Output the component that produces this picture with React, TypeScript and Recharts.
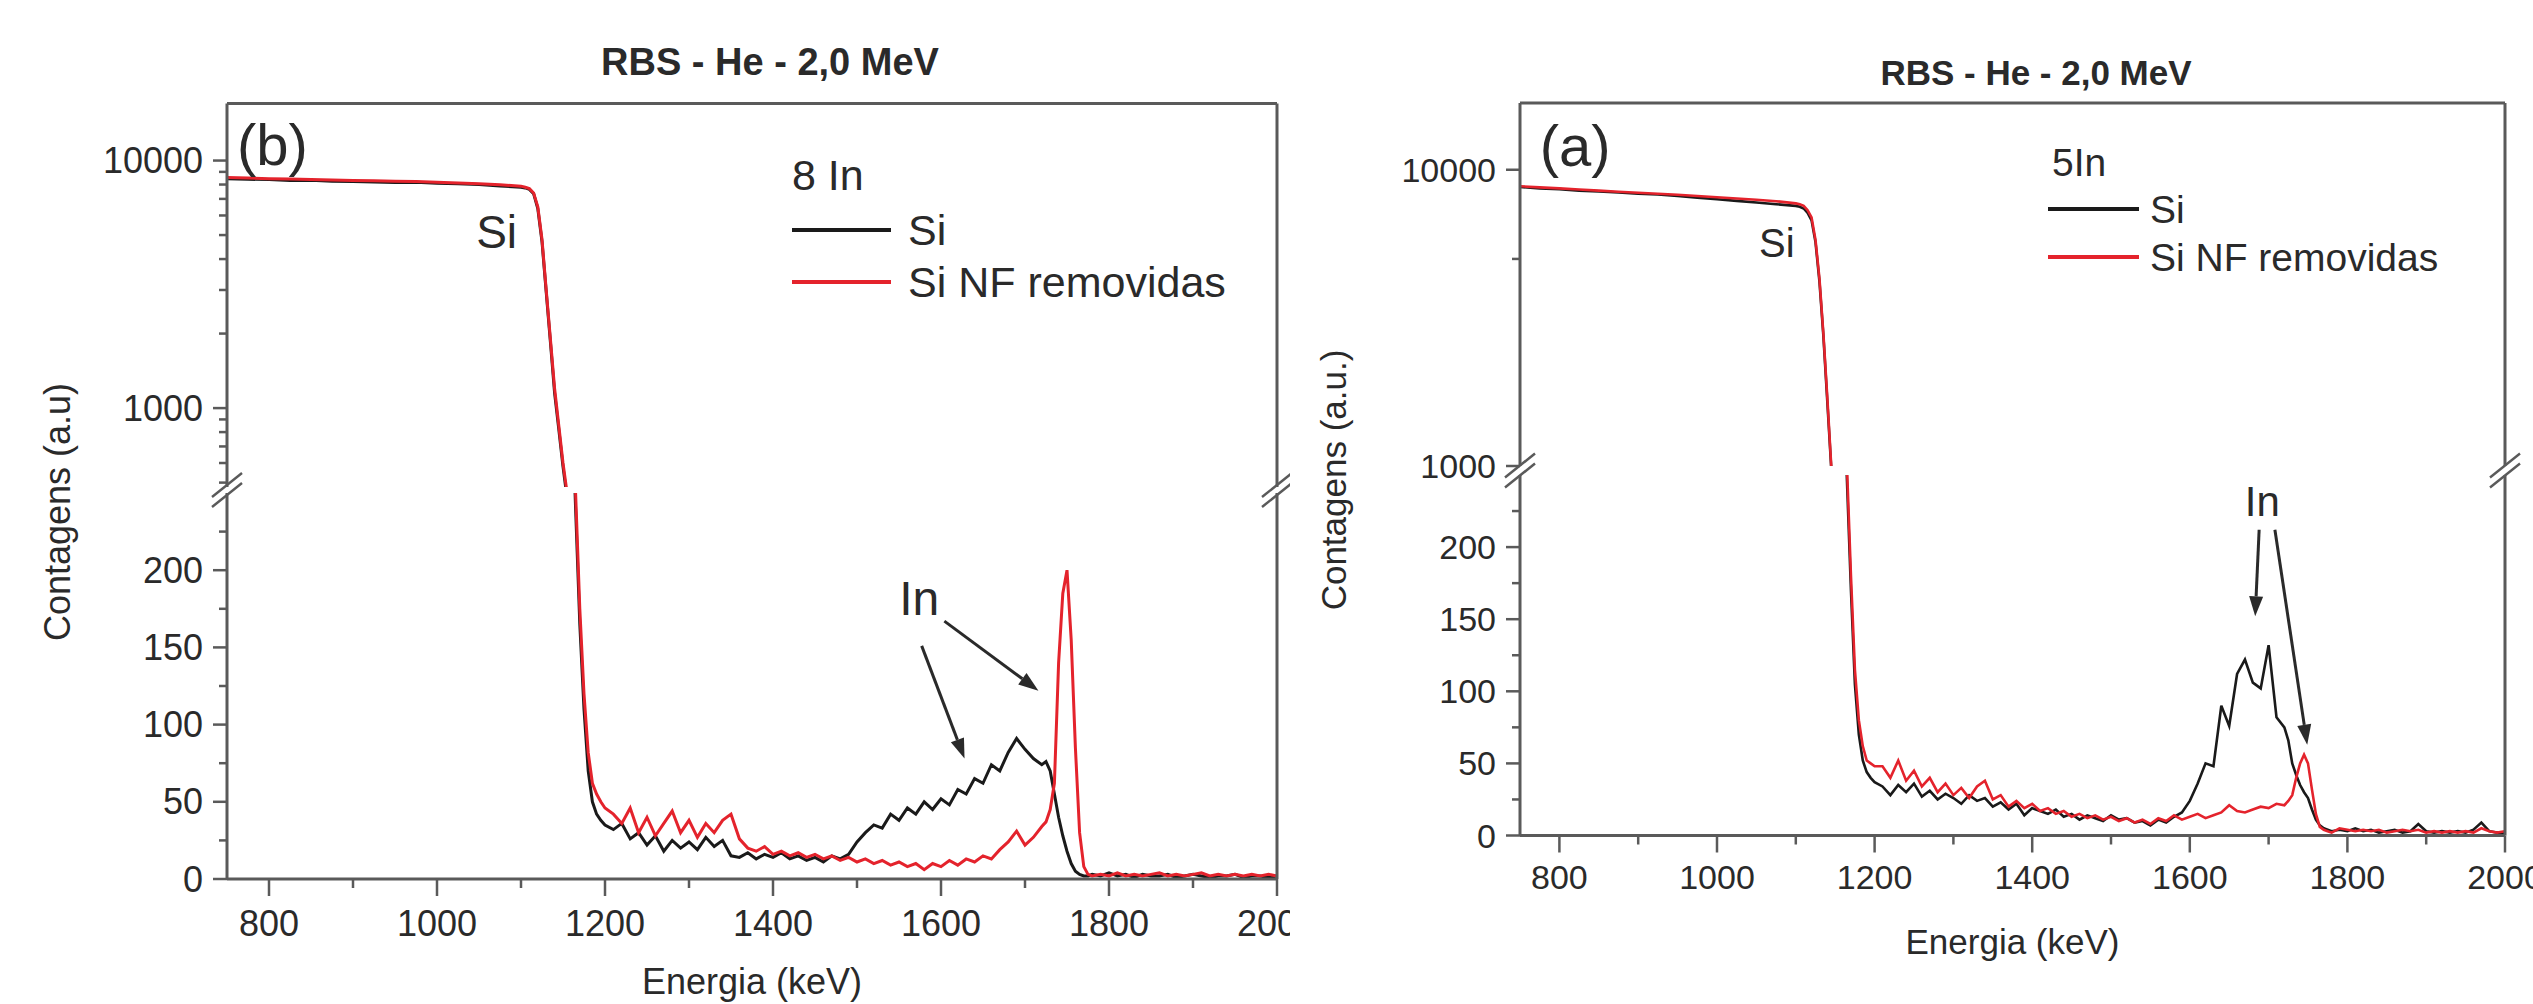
import React from "react";
import { LineChart, Line, XAxis, YAxis, Legend, ReferenceDot, ReferenceLine } from "recharts";

// energy channels (keV), shared by both spectra
const energy = [
  750, 775, 800, 825, 850, 875, 900, 925, 950, 975, 1000, 1025, 1050, 1075, 1100,
  1105, 1110, 1115, 1120, 1125, 1130, 1135, 1140, 1145, 1150, 1155, 1160, 1165, 1170, 1175, 1180, 1185, 1190, 1195, 1200,
  1210, 1220, 1230, 1240, 1250, 1260, 1270, 1280, 1290, 1300,
  1310, 1320, 1330, 1340, 1350, 1360, 1370, 1380, 1390, 1400,
  1410, 1420, 1430, 1440, 1450, 1460, 1470, 1480, 1490, 1500,
  1510, 1520, 1530, 1540, 1550, 1560, 1570, 1580, 1590, 1600,
  1610, 1620, 1630, 1640, 1650, 1660, 1670, 1680, 1690, 1700,
  1710, 1720,
  1725, 1730, 1735, 1740, 1745, 1750, 1755, 1760, 1765, 1770, 1775, 1780,
  1790, 1800, 1810, 1820, 1830, 1840, 1850, 1860, 1870, 1880, 1890,
  1900, 1910, 1920, 1930, 1940, 1950, 1960, 1970, 1980, 1990, 2000,
];

// (b) 8 In
const si8In = [
  8450, 8400, 8380, 8300, 8320, 8250, 8230, 8200, 8150, 8170, 8100, 8050, 8000, 7900, 7800,
  7750, 7650, 7350, 6400, 4700, 2950, 1850, 1150, 820, 580, 430, 320, 240, 165, 110, 70, 50, 42, 38, 35,
  32, 36, 26, 30, 22, 28, 18, 25, 20, 24,
  19, 27, 21, 25, 15, 14, 17, 13, 16, 14,
  17, 13, 15, 12, 14, 11, 15, 13, 16, 24,
  30, 35, 33, 42, 38, 46, 42, 50, 45, 52,
  48, 58, 55, 65, 62, 74, 70, 82, 91, 84,
  78, 74,
  76, 70, 55, 40, 28, 18, 10, 5, 3, 2, 2, 3,
  2, 4, 2, 3, 1, 3, 2, 2, 3, 1, 2,
  3, 2, 1, 2, 2, 3, 1, 2, 2, 1, 2,
];
const nf8In = [
  8550, 8500, 8450, 8420, 8380, 8350, 8300, 8280, 8250, 8220, 8180, 8120, 8060, 7980, 7880,
  7800, 7700, 7400, 6500, 4800, 3000, 1900, 1200, 850, 600, 450, 330, 250, 175, 120, 82, 62, 55, 50, 46,
  42, 36, 46, 30, 40, 28, 36, 44, 30, 38,
  27, 36, 30, 38, 42, 26, 20, 18, 21, 16,
  18, 15, 17, 14, 16, 13, 15, 12, 14, 11,
  13, 10, 12, 9, 11, 8, 10, 6, 10, 8,
  12, 9, 13, 11, 15, 13, 19, 24, 31, 22,
  27, 34,
  37, 45, 62, 140, 185, 200, 155, 85, 30, 8, 3, 2,
  3, 2, 4, 2, 3, 2, 3, 4, 2, 3, 2,
  3, 4, 2, 3, 2, 3, 2, 3, 2, 3, 2,
];

// (a) 5In
const si5In = [
  8750, 8650, 8600, 8500, 8450, 8380, 8300, 8250, 8150, 8050, 7950, 7850, 7750, 7650, 7550,
  7500, 7400, 7150, 6750, 5700, 4200, 2750, 1650, 980, 680, 480, 320, 245, 170, 105, 70, 52, 44, 40, 37,
  34, 28, 35, 30, 36, 27, 31, 25, 29, 26,
  22, 28, 24, 26, 20, 23, 18, 22, 14, 19,
  17, 15, 18, 13, 15, 11, 14, 12, 10, 14,
  11, 12, 9, 10, 7, 11, 9, 13, 16, 24,
  36, 50, 48, 90, 76, 112, 122, 106, 102, 132,
  82, 75,
  66, 50, 42, 35, 30, 26, 18, 11, 7, 5, 4, 3,
  4, 3, 5, 3, 4, 2, 3, 4, 2, 3, 8,
  3, 2, 3, 2, 3, 2, 4, 9, 3, 2, 2,
];
const nf5In = [
  8800, 8720, 8650, 8580, 8500, 8430, 8360, 8300, 8230, 8150, 8080, 8000, 7920, 7830, 7700,
  7650, 7550, 7300, 6900, 5800, 4300, 2800, 1700, 1000, 700, 500, 330, 255, 180, 115, 80, 62, 52, 50, 48,
  48, 40, 52, 38, 45, 34, 40, 30, 36, 28,
  33, 26, 34, 38, 25, 28, 20, 24, 19, 22,
  17, 19, 15, 17, 13, 15, 12, 14, 11, 13,
  10, 12, 9, 11, 8, 12, 10, 14, 11, 13,
  15, 12, 14, 16, 21, 17, 16, 18, 20, 19,
  22, 21,
  24, 28, 40, 50, 56, 50, 32, 15, 6, 4, 3, 2,
  5, 4, 3, 4, 3, 4, 2, 3, 4, 3, 4,
  2, 3, 2, 3, 2, 3, 2, 5, 3, 2, 3,
];

const xTicks = [800, 900, 1000, 1100, 1200, 1300, 1400, 1500, 1600, 1700, 1800, 1900, 2000];
const linTicks = [0, 25, 50, 75, 100, 125, 150, 175, 200, 225];
const linLabels = [0, 50, 100, 150, 200];
const logTicksB = [500, 600, 700, 800, 900, 1000, 2000, 3000, 4000, 5000, 6000, 7000, 8000, 9000, 10000];
const logTicksA = [1000, 5000, 10000];
const logLabels = [1000, 10000];

const AXIS = "#5a5a5a";
const TEXT = "#2a2a2a";
const BLACK = "#1a1a1a";
const RED = "#e4232c";
const FONT = '"Liberation Sans", Arial, Helvetica, sans-serif';
const AXW = 200;

type Cfg = {
  ox: number;
  width: number;
  plotL: number;
  plotR: number;
  top: number;
  logBot: number;
  linTop: number;
  linBot: number;
  logDomain: [number, number];
  logTicks: number[];
  tickFs: number;
  xLabelDy: number;
  axisFs: number;
  xh: number;
  title: string;
  titleX: number;
  titleY: number;
  titleFs: number;
  yLabel: string;
  yLabelX: number;
  yLabelY: number;
  tag: string;
  tagAt: [number, number];
  tagFs: number;
  siAt: [number, number];
  siFs: number;
  inAt: [number, number];
  inFs: number;
  arrows: [number, number, number, number][];
  legend: { x: number; y: number; w: number; h: number; header: string; fs: number; hx: number; hy: number; r1: number; r2: number; len: number; tx: number };
  si: number[];
  nf: number[];
  lw: number;
};

const panels: Cfg[] = [
  {
    ox: 0, width: 1290, plotL: 227, plotR: 1277, top: 103.5, logBot: 487, linTop: 493, linBot: 879,
    logDomain: [480, 17000], logTicks: logTicksB, tickFs: 36, xLabelDy: 44, axisFs: 36, xh: 115,
    title: "RBS - He - 2,0 MeV", titleX: 770, titleY: 62, titleFs: 38,
    yLabel: "Contagens (a.u)", yLabelX: 57, yLabelY: 512,
    tag: "(b)", tagAt: [804, 11600], tagFs: 58,
    siAt: [1071, 5140], siFs: 46,
    inAt: [1574, 182], inFs: 48,
    arrows: [[1577, 151, 1628, 78], [1604, 167, 1716, 122]],
    legend: { x: 790, y: 150, w: 470, h: 160, header: "8 In", fs: 43, hx: 2, hy: 25, r1: 80, r2: 132, len: 99, tx: 118 },
    si: si8In, nf: nf8In, lw: 3,
  },
  {
    ox: 1290, width: 1243, plotL: 230, plotR: 1215, top: 103, logBot: 466, linTop: 475, linBot: 835.5,
    logDomain: [1000, 16800], logTicks: logTicksA, tickFs: 34, xLabelDy: 41, axisFs: 35, xh: 118,
    title: "RBS - He - 2,0 MeV", titleX: 746, titleY: 72, titleFs: 35,
    yLabel: "Contagens (a.u.)", yLabelX: 43, yLabelY: 480,
    tag: "(a)", tagAt: [820, 12050], tagFs: 58,
    siAt: [1076, 5660], siFs: 40,
    inAt: [1692, 232], inFs: 42,
    arrows: [[1688, 212, 1683, 152], [1708, 212, 1749, 63]],
    legend: { x: 756, y: 135, w: 430, h: 150, header: "5In", fs: 39, hx: 6, hy: 27, r1: 74, r2: 122, len: 91, tx: 104 },
    si: si5In, nf: nf5In, lw: 2.6,
  },
];

const yTick = (labels: number[], fs: number) => (p: any) => {
  const { x, y, payload } = p;
  const major = labels.includes(payload.value);
  return (
    <g>
      <line x1={x - (major ? 14 : 8)} y1={y} x2={x} y2={y} stroke={AXIS} strokeWidth={2.5} />
      {major && (
        <text x={x - 24} y={y} textAnchor="end" dominantBaseline="central" fontSize={fs} fill={TEXT} fontFamily={FONT}>
          {payload.value}
        </text>
      )}
    </g>
  );
};

const xTick = (fs: number, dy: number) => (p: any) => {
  const { x, y, payload } = p;
  const major = payload.value % 200 === 0;
  return (
    <g>
      <line x1={x} y1={y} x2={x} y2={y + (major ? 17 : 9)} stroke={AXIS} strokeWidth={2.5} />
      {major && (
        <text x={x} y={y + dy} textAnchor="middle" dominantBaseline="central" fontSize={fs} fill={TEXT} fontFamily={FONT}>
          {payload.value}
        </text>
      )}
    </g>
  );
};

const Arrow = (p: any) => {
  const { x1, y1, x2, y2 } = p;
  const a = Math.atan2(y2 - y1, x2 - x1);
  const bx = x2 - 20 * Math.cos(a);
  const by = y2 - 20 * Math.sin(a);
  const px = -Math.sin(a) * 7;
  const py = Math.cos(a) * 7;
  return (
    <g>
      <line x1={x1} y1={y1} x2={bx} y2={by} stroke={TEXT} strokeWidth={3} />
      <polygon points={`${x2},${y2} ${bx + px},${by + py} ${bx - px},${by - py}`} fill={TEXT} />
    </g>
  );
};

function LegendBox({ payload, cfg }: { payload?: any[]; cfg: Cfg }) {
  const L = cfg.legend;
  return (
    <svg width={L.w} height={L.h} style={{ display: "block", overflow: "visible", fontFamily: FONT }}>
      <text x={L.hx} y={L.hy} dominantBaseline="central" fontSize={L.fs} fill={TEXT}>
        {L.header}
      </text>
      {(payload || []).map((it, i) => {
        const y = i === 0 ? L.r1 : L.r2;
        return (
          <g key={it.value}>
            <line x1={2} x2={2 + L.len} y1={y} y2={y} stroke={it.color} strokeWidth={4} />
            <text x={L.tx} y={y} dominantBaseline="central" fontSize={L.fs} fill={TEXT}>
              {it.value}
            </text>
          </g>
        );
      })}
    </svg>
  );
}

function Panel({ cfg }: { cfg: Cfg }) {
  const data = energy.map((e, i) => ({ e, si: cfg.si[i], nf: cfg.nf[i] }));
  const W = cfg.plotR + 40;
  const RW = 1;
  const mLeft = cfg.plotL - AXW;
  const mRight = W - cfg.plotR - RW;
  const topH = cfg.logBot + 30;
  const botTop = cfg.linTop - 4;
  const botH = cfg.linBot - botTop + cfg.xh + 8;
  const mid = (cfg.logBot + cfg.linTop) / 2;
  const axisLine = { stroke: AXIS, strokeWidth: 3 };
  const label = (value: string, fs: number) => ({ value, position: "center" as const, fontSize: fs, fill: TEXT, fontFamily: FONT });

  const lines = [
    <Line key="si" yAxisId="l" type="linear" dataKey="si" name="Si" stroke={BLACK} strokeWidth={cfg.lw} dot={false} isAnimationActive={false} />,
    <Line key="nf" yAxisId="l" type="linear" dataKey="nf" name="Si NF removidas" stroke={RED} strokeWidth={cfg.lw} dot={false} isAnimationActive={false} />,
  ];

  return (
    <div style={{ position: "absolute", left: cfg.ox, top: 0, width: cfg.width, height: 1004, overflow: "hidden" }}>
      <div style={{ position: "absolute", left: 0, top: 0 }}>
        <LineChart width={W} height={topH} data={data} margin={{ top: cfg.top - 1, right: mRight, bottom: 30, left: mLeft }}>
          <XAxis dataKey="e" type="number" domain={[750, 2000]} orientation="top" height={1} tick={false} tickLine={false} axisLine={axisLine} allowDataOverflow />
          <YAxis yAxisId="l" scale="log" type="number" domain={cfg.logDomain} ticks={cfg.logTicks} interval={0} allowDataOverflow width={AXW} tickSize={0} tickMargin={0} tickLine={false} axisLine={axisLine} tick={yTick(logLabels, cfg.tickFs)} />
          <YAxis yAxisId="r" orientation="right" scale="log" type="number" domain={cfg.logDomain} allowDataOverflow width={RW} tick={false} tickLine={false} axisLine={axisLine} />
          <Legend layout="vertical" align="center" verticalAlign="middle" wrapperStyle={{ left: cfg.legend.x, top: cfg.legend.y, width: cfg.legend.w, height: cfg.legend.h }} content={(p: any) => <LegendBox payload={p.payload} cfg={cfg} />} />
          {lines}
          <ReferenceDot yAxisId="l" x={cfg.siAt[0]} y={cfg.siAt[1]} r={0} fill="none" stroke="none" ifOverflow="visible" label={label("Si", cfg.siFs)} />
          <ReferenceDot yAxisId="l" x={cfg.tagAt[0]} y={cfg.tagAt[1]} r={0} fill="none" stroke="none" ifOverflow="visible" label={label(cfg.tag, cfg.tagFs)} />
        </LineChart>
      </div>
      <div style={{ position: "absolute", left: 0, top: botTop }}>
        <LineChart width={W} height={botH} data={data} margin={{ top: 4, right: mRight, bottom: 8, left: mLeft }}>
          <XAxis
            dataKey="e" type="number" domain={[750, 2000]} ticks={xTicks} interval={0} height={cfg.xh}
            tickSize={0} tickMargin={0} tickLine={false} axisLine={axisLine} tick={xTick(cfg.tickFs, cfg.xLabelDy)} allowDataOverflow
            label={{ value: "Energia (keV)", position: "insideBottom", offset: 0, fontSize: cfg.axisFs, fill: TEXT, fontFamily: FONT }}
          />
          <YAxis yAxisId="l" type="number" domain={[0, 250]} ticks={linTicks} interval={0} allowDataOverflow width={AXW} tickSize={0} tickMargin={0} tickLine={false} axisLine={axisLine} tick={yTick(linLabels, cfg.tickFs)} />
          <YAxis yAxisId="r" orientation="right" type="number" domain={[0, 250]} allowDataOverflow width={RW} tick={false} tickLine={false} axisLine={axisLine} />
          {lines}
          {cfg.arrows.map((a, i) => (
            <ReferenceLine key={i} yAxisId="l" segment={[{ x: a[0], y: a[1] }, { x: a[2], y: a[3] }]} ifOverflow="visible" stroke={TEXT} shape={Arrow} />
          ))}
          <ReferenceDot yAxisId="l" x={cfg.inAt[0]} y={cfg.inAt[1]} r={0} fill="none" stroke="none" ifOverflow="visible" label={label("In", cfg.inFs)} />
        </LineChart>
      </div>
      <svg width={cfg.width} height={1004} style={{ position: "absolute", left: 0, top: 0, pointerEvents: "none", fontFamily: FONT }}>
        <text x={cfg.titleX} y={cfg.titleY} textAnchor="middle" dominantBaseline="central" fontWeight="bold" fontSize={cfg.titleFs} fill={TEXT}>
          {cfg.title}
        </text>
        <text transform={`translate(${cfg.yLabelX},${cfg.yLabelY}) rotate(-90)`} textAnchor="middle" dominantBaseline="central" fontSize={cfg.axisFs} fill={TEXT}>
          {cfg.yLabel}
        </text>
        {[cfg.plotL, cfg.plotR].map((x) =>
          [-5, 5].map((k) => (
            <line key={`${x}-${k}`} x1={x - 15} y1={mid + 12 + k} x2={x + 15} y2={mid - 12 + k} stroke={AXIS} strokeWidth={2.5} />
          ))
        )}
      </svg>
    </div>
  );
}

export default function App() {
  return (
    <div style={{ position: "absolute", left: 0, top: 0, width: 2533, height: 1004, background: "#fff", fontFamily: FONT, overflow: "hidden" }}>
      {panels.map((c) => (
        <Panel key={c.tag} cfg={c} />
      ))}
    </div>
  );
}
